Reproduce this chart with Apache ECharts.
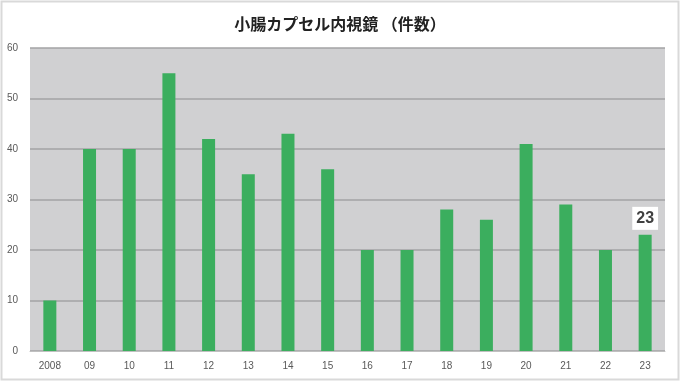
<!DOCTYPE html>
<html><head><meta charset="utf-8">
<script src="https://cdn.jsdelivr.net/npm/echarts@6/dist/echarts.min.js"></script>
<style>html,body{margin:0;padding:0;background:#fff}#c{width:680px;height:381px}</style>
</head><body><div id="c"></div>
<script>
const title = '小腸カプセル内視鏡 （件数）';
const categories = ['2008','09','10','11','12','13','14','15','16','17','18','19','20','21','22','23'];
const counts = [10,40,40,55,42,35,43,36,20,20,28,26,41,29,20,23];
const yTicks = {min:0, max:60, interval:10};
const labelIndex = 15;

const chart = echarts.init(document.getElementById('c'), null, {renderer:'canvas'});
chart.setOption({
  animation:false,
  backgroundColor:'#fff',
  title:{text:title,left:'center',top:11,textStyle:{fontFamily:'Noto Sans CJK JP',fontSize:16,fontWeight:'bold',color:'#222'}},
  graphic:[{type:'rect',shape:{x:1.5,y:1.5,width:677,height:378},style:{fill:'none',stroke:'#d9d9d9',lineWidth:2},silent:true}],
  grid:{left:30,right:15,top:48,bottom:30,show:true,backgroundColor:'#d0d0d2',borderWidth:0},
  xAxis:{type:'category',data:categories,
    axisLine:{show:true,lineStyle:{color:'#c0c0c0'}},axisTick:{show:false},
    axisLabel:{color:'#595959',fontSize:10,fontFamily:'Liberation Sans',margin:10}},
  yAxis:{type:'value',min:yTicks.min,max:yTicks.max,interval:yTicks.interval,
    axisLine:{show:false},axisTick:{show:false},
    axisLabel:{color:'#595959',fontSize:10,fontFamily:'Liberation Sans',margin:12},
    splitLine:{lineStyle:{color:'#a3a3a5',width:1.5}}},
  series:[{type:'bar',barWidth:13,
    data:counts.map((v,i)=>i===labelIndex?{value:v,label:{show:true,position:'top',distance:5,formatter:'{c}',
      backgroundColor:'#fff',padding:[4,4,3,4],color:'#404040',fontSize:16,fontWeight:'bold',fontFamily:'Liberation Sans'}}:v),
    itemStyle:{color:'#3bae5e'}}]
});
</script></body></html>
